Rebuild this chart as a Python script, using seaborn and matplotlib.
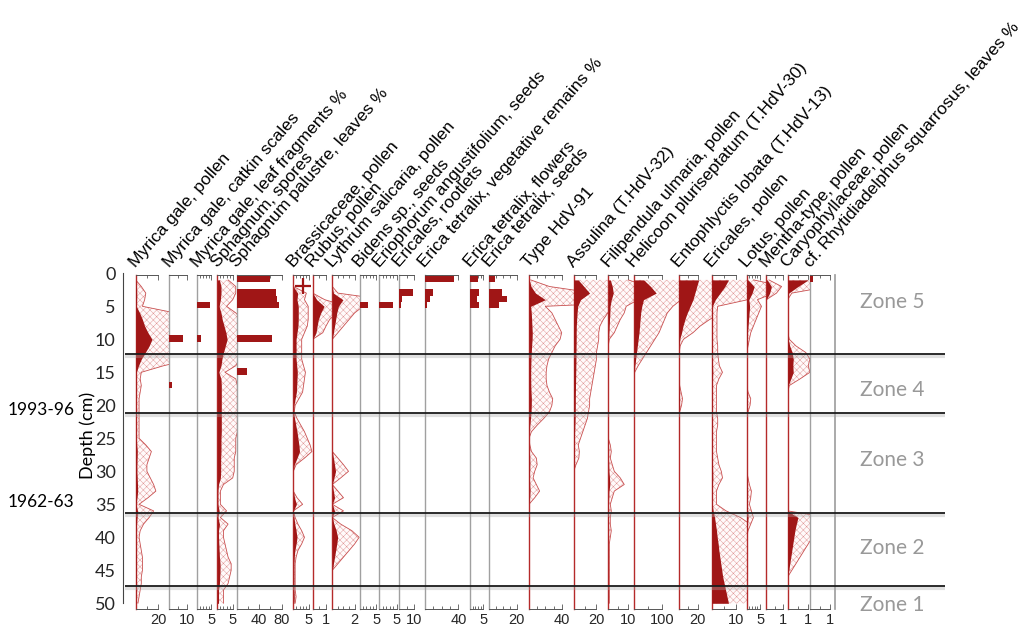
import numpy as np
import matplotlib
matplotlib.use("Agg")
import matplotlib.pyplot as plt
import matplotlib.patheffects as pe
import matplotlib.transforms as mtransforms
import seaborn as sns

# ---------------- data ----------------
# pollen / palynomorph samples (cm)
depth_cm = [1, 2, 3, 4, 5, 6, 7, 8, 9, 10,
            11, 12, 13, 14, 15, 16, 17, 18, 19, 20,
            21, 22, 23, 24, 25, 26, 27, 28, 29, 30,
            31, 32, 33, 34, 35, 36, 37, 38, 39, 40,
            41, 42, 43, 44, 45, 46, 47, 48, 49, 50]

myrica_pollen = [0.0, 0.5, 0.9, 0.8, 0.6, 3.5, 6.0, 8.0, 11.0, 14.5,
                 12.0, 8.5, 5.0, 2.5, 0.5, 0.4, 0.5, 0.4, 0.3, 0.3,
                 0.3, 0.3, 0.3, 0.3, 0.3, 0.9, 1.4, 1.2, 1.0, 1.0,
                 1.3, 1.6, 1.8, 1.1, 0.3, 1.6, 1.2, 0.7, 0.4, 0.3,
                 0.4, 0.5, 0.6, 0.6, 0.6, 0.5, 0.5, 0.4, 0.3, 0.2]

sphagnum_spores = [0.7, 1.2, 1.2, 1.0, 0.6, 1.2, 1.6, 2.2, 2.8, 3.2,
                   2.6, 2.0, 1.5, 1.2, 0.5, 1.2, 1.3, 1.3, 1.3, 1.3,
                   1.3, 1.3, 1.3, 1.3, 1.2, 1.2, 1.2, 1.1, 1.1, 1.1,
                   1.0, 0.4, 0.2, 0.2, 0.2, 0.6, 0.2, 0.7, 0.4, 0.4,
                   0.5, 0.6, 0.7, 0.9, 0.9, 0.8, 0.7, 0.4, 0.4, 0.4]

brassicaceae = [0.0, 0.0, 1.4, 1.2, 1.6, 1.6, 1.6, 1.5, 1.2, 0.9,
                0.9, 0.9, 0.9, 1.1, 1.3, 1.2, 1.1, 1.0, 0.6, 0.2,
                0.1, 0.4, 0.8, 1.2, 1.5, 1.8, 2.0, 1.2, 0.3, 0.0,
                0.0, 0.0, 0.0, 0.4, 1.0, 0.0, 0.2, 0.5, 0.9, 1.2,
                0.9, 0.5, 0.3, 0.2, 0.2, 0.2, 0.2, 0.2, 0.3, 0.2]

rubus = [0.0, 0.0, 0.0, 0.3, 0.85, 0.6, 0.42, 0.33, 0.25, 0.0,
         0, 0, 0, 0, 0, 0, 0, 0, 0, 0,
         0, 0, 0, 0, 0, 0, 0, 0, 0, 0,
         0, 0, 0, 0, 0, 0, 0, 0, 0, 0,
         0, 0, 0, 0, 0, 0, 0, 0, 0, 0]

lythrum = [0.0, 0.0, 0.1, 0.95, 0.55, 0.4, 0.3, 0.2, 0.1, 0.0,
           0, 0, 0, 0, 0, 0, 0, 0, 0, 0,
           0, 0, 0, 0, 0, 0, 0, 0.1, 0.2, 0.29,
           0.15, 0.0, 0.1, 0.2, 0.0, 0.2, 0.0, 0.15, 0.35, 0.48,
           0.4, 0.3, 0.2, 0.1, 0, 0, 0, 0, 0, 0]

type_hdv91 = [0.2, 2.5, 8.0, 20.0, 2.0, 2.8, 3.2, 3.6, 4.0, 3.8,
              3.2, 2.8, 2.4, 2.2, 2.1, 2.1, 2.2, 2.5, 2.9, 2.8,
              2.5, 1.8, 1.0, 0.3, 0.0, 0.1, 0.3, 0.9, 1.0, 0.7,
              0.5, 0.9, 1.3, 0.7, 0, 0, 0, 0, 0, 0,
              0, 0, 0, 0, 0, 0, 0, 0, 0, 0]

assulina = [4.0, 9.0, 14.0, 6.0, 3.5, 3.0, 2.6, 2.3, 2.2, 2.2,
            2.1, 2.0, 2.0, 1.9, 1.8, 1.7, 1.6, 1.5, 1.4, 1.4,
            1.3, 1.2, 1.0, 0.8, 0.6, 0.4, 0.5, 0.45, 0.2, 0.0,
            0, 0, 0, 0, 0, 0, 0, 0, 0, 0,
            0, 0, 0, 0, 0, 0, 0, 0, 0, 0]

filipendula = [1.0, 2.0, 2.5, 1.5, 0.9, 0.8, 0.6, 0.45, 0.3, 0.05,
               0, 0, 0, 0, 0, 0, 0, 0, 0, 0,
               0, 0, 0, 0, 0, 0.1, 0.15, 0.1, 0.2, 0.3,
               0.6, 0.8, 0.3, 0.2, 0.1, 0.15, 0.1, 0.1, 0.15, 0.1,
               0.05, 0.05, 0.05, 0.05, 0.05, 0.05, 0.05, 0.05, 0.05, 0.05]

helicoon = [35, 60, 80, 34, 28, 24, 22, 20, 18, 15,
            12, 9, 6, 3, 0.5, 0, 0, 0, 0, 0,
            0, 0, 0, 0, 0, 0, 0, 0, 0, 0,
            0, 0, 0, 0, 0, 0, 0, 0, 0, 0,
            0, 0, 0, 0, 0, 0, 0, 0, 0, 0]

entophlyctis = [21, 19, 17, 15, 12, 9, 6.5, 4.5, 3, 1,
                0.3, 0.1, 0.1, 0.1, 0.1, 0.1, 0.2, 0.5, 0.8, 0.6,
                0.2, 0.1, 0.1, 0.1, 0.1, 0, 0, 0, 0, 0,
                0, 0, 0, 0, 0, 0, 0, 0, 0, 0,
                0, 0, 0, 0, 0, 0, 0, 0, 0, 0]

ericales_pollen = [7.0, 5.5, 3.5, 1.5, 0.25, 0.22, 0.22, 0.22, 0.22, 0.22,
                   0.25, 0.25, 0.28, 0.32, 0.45, 0.3, 0.2, 0.2, 0.2, 0.2,
                   0.2, 0.25, 0.25, 0.2, 0.2, 0.2, 0.2, 0.25, 0.3, 0.4,
                   0.45, 0.3, 0.2, 0.2, 0.2, 0.6, 1.2, 1.6, 2.0, 2.3,
                   2.7, 3.0, 3.4, 3.8, 4.2, 4.6, 5.2, 5.8, 6.4, 7.0]

lotus = [0.5, 2.8, 2.0, 0.8, 1.1, 0.9, 0.7, 0.5, 0.3, 0.2,
         0.1, 0, 0, 0, 0, 0, 0, 0.1, 0.3, 0.25,
         0.1, 0, 0, 0, 0, 0, 0, 0, 0, 0,
         0.1, 0.2, 0.35, 0.3, 0.2, 0.35, 0.5, 0.3, 0.1, 0,
         0, 0, 0, 0, 0, 0, 0, 0, 0, 0]

mentha = [0.05, 0.3, 0.2, 0, 0, 0, 0, 0, 0, 0,
          0, 0, 0, 0, 0, 0, 0, 0, 0, 0,
          0, 0, 0, 0, 0, 0, 0, 0, 0, 0,
          0, 0, 0, 0, 0, 0, 0, 0, 0, 0,
          0, 0, 0, 0, 0, 0, 0, 0, 0, 0]

caryophyllaceae = [1.0, 0.5, 0.05, 0, 0, 0, 0, 0, 0, 0.02,
                   0.1, 0.22, 0.27, 0.25, 0.27, 0.15, 0.02, 0, 0, 0,
                   0, 0, 0, 0, 0, 0, 0, 0, 0, 0,
                   0, 0, 0, 0, 0, 0, 0.5, 0.42, 0.35, 0.3,
                   0.25, 0.2, 0.15, 0.1, 0.05, 0, 0, 0, 0, 0]

# macrofossil slices (top / base of each slice, cm)
macro_top_cm = [0.4, 2.4, 3.4, 4.4, 9.4, 14.4, 16.4, 26.4, 36.6]
macro_base_cm = [1.3, 3.4, 4.4, 5.3, 10.4, 15.4, 17.4, 27.2, 37.4]

myrica_catkins = [0, 0, 0, 0, 7.8, 0, 1.3, 0, 0]
myrica_leaf_pct = [0, 0, 0, 4.5, 1.3, 0, 0, 0, 0]
sphagnum_palustre_pct = [59, 69, 72, 75, 63, 18, 0, 1, 1]
bidens_seeds = [0, 0, 0, 2.5, 0, 0, 0, 0, 0]
eriophorum_seeds = [0, 0, 0, 4.0, 0, 0, 0, 0, 0]
ericales_rootlets = [0, 9.6, 2.2, 1.1, 0, 0, 0, 0, 0]
erica_veg_pct = [35, 10, 6, 2, 0, 0, 0, 0, 0]
erica_flowers = [3.1, 3.4, 2.5, 3.4, 0, 0, 0, 0, 0]
erica_seeds = [4.2, 9.0, 12.7, 7.0, 0, 0, 0, 0, 0]
rhytidiadelphus_pct = [0.15, 0, 0, 0, 0, 0, 0, 0, 0]

brassicaceae_present_cm = [1.9]

zone_bounds_cm = [12.2, 21.2, 36.3, 47.4]
zone_names = ["Zone 5", "Zone 4", "Zone 3", "Zone 2", "Zone 1"]
dated_horizons = [("1993-96", 20.7), ("1962-63", 34.6)]

# (title, kind, series, axis max, tick step, labelled ticks, exaggeration)
panels = [
    ("Myrica gale, pollen", "curve", myrica_pollen, 30.0, 10, [20], 10),
    ("Myrica gale, catkin scales", "bar", myrica_catkins, 15.6, 5, [10], None),
    ("Myrica gale, leaf fragments %", "bar", myrica_leaf_pct, 7.1, 1, [5], None),
    ("Sphagnum, spores", "curve", sphagnum_spores, 6.3, 1, [5], 5),
    ("Sphagnum palustre, leaves %", "bar", sphagnum_palustre_pct, 100.6, 20, [40, 80], None),
    ("Brassicaceae, pollen", "curve", brassicaceae, 6.25, 1, [5], 3),
    ("Rubus, pollen", "curve", rubus, 1.46, 0.5, [1], 3),
    ("Lythrum salicaria, pollen", "curve", lythrum, 2.45, 0.5, [2], 5),
    ("Bidens sp., seeds", "bar", bidens_seeds, 5.9, 1, [5], None),
    ("Eriophorum angustifolium, seeds", "bar", eriophorum_seeds, 5.7, 1, [5], None),
    ("Ericales, rootlets", "bar", ericales_rootlets, 17.3, 5, [10], None),
    ("Erica tetralix, vegetative remains %", "bar", erica_veg_pct, 54.0, 10, [40], None),
    ("Erica tetralix, flowers", "bar", erica_flowers, 7.2, 1, [5], None),
    ("Erica tetralix, seeds", "bar", erica_seeds, 29.0, 5, [20], None),
    ("Type HdV-91", "curve", type_hdv91, 54.7, 10, [40], 10),
    ("Assulina (T.HdV-32)", "curve", assulina, 30.4, 10, [20], 10),
    ("Filipendula ulmaria, pollen", "curve", filipendula, 12.9, 5, [10], 10),
    ("Helicoon pluriseptatum (T.HdV-30)", "curve", helicoon, 161.0, 50, [100], 5),
    ("Entophlyctis lobata (T.HdV-13)", "curve", entophlyctis, 34.7, 10, [20], 5),
    ("Ericales, pollen", "curve", ericales_pollen, 14.6, 5, [10], 10),
    ("Lotus, pollen", "curve", lotus, 7.3, 1, [5], 5),
    ("Mentha-type, pollen", "curve", mentha, 1.26, 0.5, [1], 3),
    ("Caryophyllaceae, pollen", "curve", caryophyllaceae, 1.1, 0.5, [1], 4),
    ("cf. Rhytidiadelphus squarrosus, leaves %", "bar", rhytidiadelphus_pct, 1.25, 0.5, [1], None),
]

# ---------------- layout / style ----------------
panel_edges_px = [135.7, 169.3, 197.3, 217.3, 236.7, 293.3, 312.7, 332.3, 359.7,
                  379.3, 399.0, 425.0, 470.0, 489.3, 529.0, 573.7, 608.3, 634.0,
                  678.7, 711.7, 746.7, 766.3, 787.7, 810.3, 835.3]

W, H = 1026, 630
Y0_PX = 273.3
PX_PER_CM = 6.6
RED = "#a01616"
BASE_RED = "#b52a2a"
BASE_GREY = "#a0a0a0"
HATCH = "#de8c8c"
OUTLINE = "#c85050"
AXIS_C = "#555555"

sns.set_theme(style="white")
plt.rcParams["font.family"] = ["Liberation Sans", "DejaVu Sans"]
plt.rcParams["hatch.linewidth"] = 0.3

fig = plt.figure(figsize=(W / 100, H / 100), dpi=100)


def y_px(d):
    return Y0_PX + PX_PER_CM * d


def add_axes_px(left, right, d_top, d_bot):
    top, bot = y_px(d_top), y_px(d_bot)
    ax = fig.add_axes([left / W, 1 - bot / H, (right - left) / W, (bot - top) / H])
    ax.set_ylim(d_bot, d_top)
    ax.patch.set_alpha(0)
    return ax


depth = np.asarray(depth_cm, dtype=float)
m_top = np.asarray(macro_top_cm)
m_base = np.asarray(macro_base_cm)
PANEL_TOP, PANEL_BOT = 0.26, 50.86

for i, (title, kind, series, xmax, step, labelled, exag) in enumerate(panels):
    left, right = panel_edges_px[i], panel_edges_px[i + 1]
    ax = add_axes_px(left, right, PANEL_TOP, PANEL_BOT)
    vals = np.asarray(series, dtype=float)

    if kind == "curve":
        ex = vals * exag
        ax.fill_betweenx(depth, 0, ex, facecolor="#fffafa", edgecolor=HATCH,
                         hatch="xxxxx", linewidth=0, zorder=1)
        sns.lineplot(x=ex, y=depth, orient="y", estimator=None, sort=False,
                     color=OUTLINE, linewidth=0.6, ax=ax, legend=False, zorder=2)
        ax.fill_betweenx(depth, 0, vals, color=RED, linewidth=0, zorder=3)
        base_c = BASE_RED
    else:
        ax.barh((m_top + m_base) / 2, vals, height=m_base - m_top,
                color=RED, linewidth=0, zorder=3)
        base_c = BASE_GREY

    ax.set_xlim(0, xmax)
    ax.set_ylim(PANEL_BOT, PANEL_TOP)
    ax.set_xlabel("")
    ax.set_ylabel("")
    ax.set_yticks([])

    top_val = max(labelled)
    ax.set_xticks(labelled)
    ax.set_xticklabels([f"{v:g}" for v in labelled])
    ax.set_xticks(np.arange(0, top_val + step / 2, step), minor=True)
    ax.tick_params(axis="x", which="both", bottom=True, top=True, direction="in",
                   labelbottom=True, labeltop=False, color=AXIS_C, width=0.6,
                   pad=3, labelsize=10.5)
    ax.tick_params(axis="x", which="major", length=3.5)
    ax.tick_params(axis="x", which="minor", length=2)

    for side in ("top", "bottom"):
        ax.spines[side].set_bounds(0, top_val)
        ax.spines[side].set_color(AXIS_C)
        ax.spines[side].set_linewidth(0.7)
    ax.spines["left"].set_color(base_c)
    ax.spines["left"].set_linewidth(1.0)
    ax.spines["right"].set_visible(i == len(panels) - 1)
    ax.spines["right"].set_color(BASE_GREY)

    if title.startswith("Brassicaceae"):
        tr = mtransforms.blended_transform_factory(ax.transAxes, ax.transData)
        ax.plot([0.5] * len(brassicaceae_present_cm), brassicaceae_present_cm,
                transform=tr, marker="+", ms=11, mew=1.6, color=RED,
                linestyle="none", zorder=4, clip_on=False)

    fig.text(left / W, 1 - 268 / H, title, rotation=49, rotation_mode="anchor",
             ha="left", va="baseline", fontsize=12.5, color="black")

# depth axis
ax_d = add_axes_px(122.7, 123.2, -0.8, PANEL_BOT)
for side in ("top", "bottom", "right"):
    ax_d.spines[side].set_visible(False)
ax_d.spines["left"].set_bounds(0, 50)
ax_d.spines["left"].set_color("#444444")
ax_d.spines["left"].set_linewidth(0.8)
ax_d.set_xticks([])
ax_d.set_yticks(np.arange(0, 51, 5))
ax_d.tick_params(axis="y", direction="out", length=3, width=0.8, color="#444444",
                 labelsize=13, pad=2)
for lbl in ax_d.get_yticklabels():
    lbl.set_family(["Lato", "DejaVu Sans"])

# overlay: zone boundaries, zone names, dated horizons
ax_z = add_axes_px(0, W, -1.0, 52.0)
ax_z.set_xlim(0, W)
ax_z.axis("off")
shadow = [pe.SimpleLineShadow(offset=(0, -1.5), shadow_color="#a8a8a8", alpha=0.35,
                              rho=1.0, linewidth=3.0), pe.Normal()]
for zb in zone_bounds_cm:
    ax_z.plot([125, 945], [zb, zb], color="#1c1c1c", lw=1.3, path_effects=shadow,
              solid_capstyle="butt", zorder=10)

zone_label_depths = [4.3, 17.7, 28.3, 41.6, 50.3]
for name, zd in zip(zone_names, zone_label_depths):
    ax_z.text(892, zd, name, ha="center", va="center", fontsize=15,
              color="#999999", family=["Lato", "DejaVu Sans"])

for txt, hd in dated_horizons:
    ax_z.text(8, hd, txt, ha="left", va="center", fontsize=12.5,
              color="black", family=["Lato", "DejaVu Sans"])
ax_z.text(88, 24.5, "Depth (cm)", rotation=90, ha="center", va="center",
          fontsize=13, color="black", family=["Lato", "DejaVu Sans"])

fig.savefig("out.png", dpi=100)
